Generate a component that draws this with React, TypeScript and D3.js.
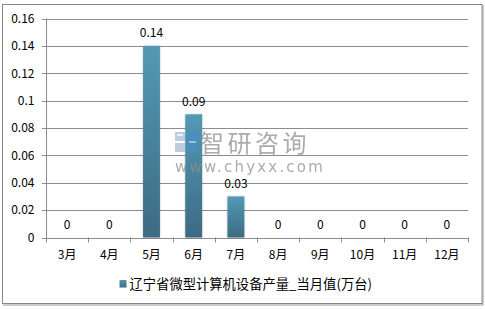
import React from "react";
import * as d3 from "d3";

const categories = ["3月", "4月", "5月", "6月", "7月", "8月", "9月", "10月", "11月", "12月"];
const values = [0, 0, 0.14, 0.09, 0.03, 0, 0, 0, 0, 0];
const valueLabels = ["0", "0", "0.14", "0.09", "0.03", "0", "0", "0", "0", "0"];
const yTicks = [0, 0.02, 0.04, 0.06, 0.08, 0.1, 0.12, 0.14, 0.16];
const seriesName = "辽宁省微型计算机设备产量_当月值(万台)";

const W = 485;
const H = 309;
const font = "'Noto Sans CJK SC', 'DejaVu Sans', sans-serif";

export default function App() {
  const left = 46, right = 468, top = 18.5, bottom = 237.5;
  const x = d3.scaleBand<string>().domain(categories).range([left, right]).paddingInner(0.6).paddingOuter(0.3);
  const xb = d3.scaleBand<string>().domain(categories).range([left, right]);
  const y = d3.scaleLinear().domain([0, 0.16]).range([bottom, top]);
  const fmt = (v: number) => d3.format("~g")(+v.toFixed(2));

  return (
    <div style={{ position: "absolute", left: 0, top: 0 }}>
      <svg width={W} height={H} style={{ display: "block" }}>
        <defs>
          <linearGradient id="barGrad" x1="0" y1="0" x2="0" y2="1">
            <stop offset="0" stopColor="#5399b4" />
            <stop offset="1" stopColor="#3c6b83" />
          </linearGradient>
          <filter id="sh" x="-30%" y="-5%" width="160%" height="110%">
            <feGaussianBlur in="SourceAlpha" stdDeviation="1.2" />
            <feComponentTransfer><feFuncA type="linear" slope="0.25" /></feComponentTransfer>
            <feMerge><feMergeNode /><feMergeNode in="SourceGraphic" /></feMerge>
          </filter>
        </defs>
        <rect x={0} y={0} width={W} height={H} fill="#fff" />
        <rect x={2.5} y={4.5} width={479.5} height={299} fill="#fff" stroke="#868686" strokeWidth={1} />
        <line x1={483} y1={5} x2={483} y2={305} stroke="#9a9a9a" strokeWidth={1} />
        <line x1={3} y1={305} x2={483} y2={305} stroke="#9a9a9a" strokeWidth={1} />

        {/* gridlines and y axis ticks */}
        {yTicks.map((t) => (
          <g key={t}>
            <line x1={left - 4} x2={right} y1={Math.round(y(t)) + 0.5} y2={Math.round(y(t)) + 0.5} stroke="#8c8c8c" strokeWidth={1} />
            <text x={34.5} y={y(t)} dy="0.36em" textAnchor="end" fontSize={12} fontFamily={font} fill="#000">{fmt(t)}</text>
          </g>
        ))}
        <line x1={left + 0.5} x2={left + 0.5} y1={top} y2={bottom + 0.5} stroke="#8c8c8c" />

        {/* x axis ticks */}
        {categories.map((c) => (
          <line key={"t" + c} x1={Math.round(xb(c)!) + 0.5} x2={Math.round(xb(c)!) + 0.5} y1={bottom} y2={bottom + 5} stroke="#8c8c8c" />
        ))}
        <line x1={Math.round(right) + 0.5} x2={Math.round(right) + 0.5} y1={bottom} y2={bottom + 5} stroke="#8c8c8c" />
        {categories.map((c) => (
          <text key={"l" + c} x={xb(c)! + xb.bandwidth() / 2} y={255} dy="0.36em" textAnchor="middle" fontSize={12} fontFamily={font} fill="#000">{c}</text>
        ))}

        {/* bars */}
        {categories.map((c, i) => values[i] > 0 ? (
          <rect key={"b" + c} x={x(c)!} y={y(values[i])} width={x.bandwidth()} height={bottom - y(values[i])} fill="url(#barGrad)" filter="url(#sh)" />
        ) : null)}

        {/* watermark */}
        <g opacity={0.75}>
          <rect x={175} y={132} width={10} height={9} fill="#a9bcd6" />
          <rect x={175} y={143} width={10} height={9} fill="#a9bcd6" />
          <rect x={187} y={132} width={11} height={20} fill="#4a8fc4" />
          <rect x={177} y={134} width={6} height={2} fill="#fff" opacity={0.7} />
          <rect x={189} y={141} width={7} height={2} fill="#fff" opacity={0.6} />
          <text x={200} y={152} fontSize={24} letterSpacing={3.5} fontFamily={font} fill="#8f8f8f">智研咨询</text>
          <text x={175} y={172} fontSize={15} letterSpacing={2.2} fontFamily="'DejaVu Sans', sans-serif" fill="#8f8f8f">www.chyxx.com</text>
        </g>

        {/* value labels */}
        {categories.map((c, i) => (
          <text key={"v" + c} x={xb(c)! + xb.bandwidth() / 2} y={y(values[i]) - 13} dy="0.36em" textAnchor="middle" fontSize={12} fontFamily={font} fill="#000">{valueLabels[i]}</text>
        ))}

        {/* legend */}
        <rect x={119.5} y={280} width={7} height={7.5} fill="url(#barGrad)" />
        <text x={129.5} y={284} dy="0.36em" fontSize={13.3} fontFamily={font} fill="#000">{seriesName}</text>
      </svg>
    </div>
  );
}
